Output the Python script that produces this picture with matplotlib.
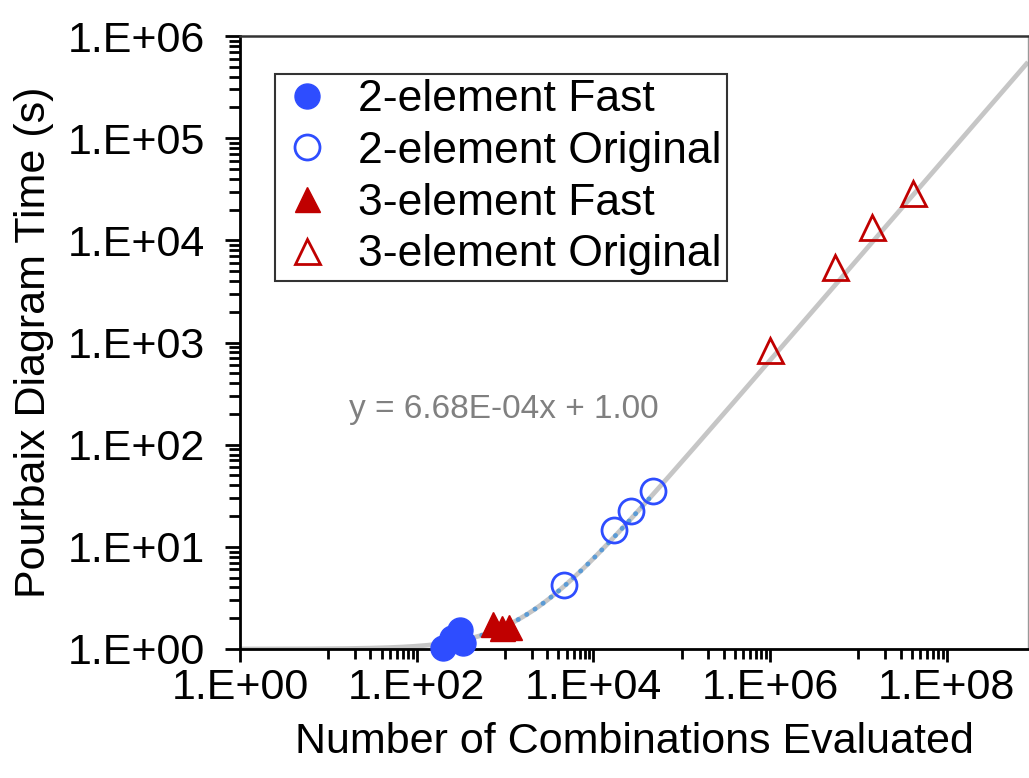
import numpy as np
import matplotlib
matplotlib.use("Agg")
import matplotlib.pyplot as plt
from matplotlib.ticker import FixedLocator, FuncFormatter, LogLocator, NullFormatter

plt.rcParams['font.family'] = ['Liberation Sans', 'DejaVu Sans']

# ---- data ----
two_fast_x = [198, 251, 309, 333]
two_fast_y = [1.02, 1.28, 1.53, 1.15]
two_orig_x = [4.6e3, 1.7e4, 2.65e4, 4.7e4]
two_orig_y = [4.23, 14.6, 22.4, 35.2]
three_fast_x = [728, 917, 1100]
three_fast_y = [1.76, 1.60, 1.64]
three_orig_x = [1.0e6, 5.5e6, 1.41e7, 4.2e7]
three_orig_y = [845, 5470, 13500, 29000]
fit_slope = 6.68e-4
fit_intercept = 1.00
fit_label = "y = 6.68E-04x + 1.00"
x_major = [1e0, 1e2, 1e4, 1e6, 1e8]
xlabel = "Number of Combinations Evaluated"
ylabel = "Pourbaix Diagram Time (s)"

W, H = 1029, 778
fig = plt.figure(figsize=(W / 100, H / 100), dpi=100)
ax = fig.add_axes([240 / W, 1 - 649 / H, 788 / W, 613 / H])

xmax = 10 ** 8.92
ax.set_xscale('log')
ax.set_yscale('log')
ax.set_xlim(1, xmax)
ax.set_ylim(1, 1e6)

# gray trendline over the whole axis
xs = np.logspace(0, np.log10(xmax), 400)
ax.plot(xs, fit_slope * xs + fit_intercept, color='#c6c6c6', lw=3.4, zorder=1,
        solid_capstyle='butt')
# dotted blue trendline over 2-element range
xd = np.logspace(np.log10(min(two_fast_x)), np.log10(max(two_orig_x)), 200)
ax.plot(xd, fit_slope * xd + fit_intercept, color='#5b9bd5', lw=3.4, ls=(0, (0.1, 2.0)),
        zorder=2, dash_capstyle='round')

blue = '#2e4dff'
red = '#c00000'
ax.plot(two_fast_x, two_fast_y, 'o', ms=18, color=blue, mec=blue, ls='none',
        label='2-element Fast', zorder=3, clip_on=False)
ax.plot(two_orig_x, two_orig_y, 'o', ms=18, mfc='none', mec=blue, mew=2, ls='none',
        label='2-element Original', zorder=3)
ax.plot(three_fast_x, three_fast_y, '^', ms=18, color=red, mec=red, ls='none',
        label='3-element Fast', zorder=3)
ax.plot(three_orig_x, three_orig_y, '^', ms=18, mfc='none', mec=red, mew=2, ls='none',
        label='3-element Original', zorder=3)

# ticks
def sci(v, pos=None):
    e = int(round(np.log10(v)))
    return f"1.E{'+' if e >= 0 else '-'}{abs(e):02d}"

ax.xaxis.set_major_locator(FixedLocator(x_major))
xminor = []
for d in range(0, 9, 2):
    for m in range(1, 10):
        v = m * 10 ** (d + 1)
        if v <= xmax:
            xminor.append(v)
ax.xaxis.set_minor_locator(FixedLocator(xminor))
ax.xaxis.set_major_formatter(FuncFormatter(sci))
ax.xaxis.set_minor_formatter(NullFormatter())

ax.yaxis.set_major_locator(LogLocator(base=10, numticks=20))
ax.yaxis.set_minor_locator(LogLocator(base=10, subs=np.arange(2, 10), numticks=20))
ax.yaxis.set_major_formatter(FuncFormatter(sci))
ax.yaxis.set_minor_formatter(NullFormatter())

ax.tick_params(axis='x', which='major', direction='out', length=9, width=2, labelsize=31, pad=5)
ax.tick_params(axis='x', which='minor', direction='out', length=7, width=2)
ax.tick_params(axis='y', which='major', direction='out', length=11, width=2, labelsize=31, pad=14)
ax.tick_params(axis='y', which='minor', direction='out', length=8, width=2)

for s in ['left', 'bottom']:
    ax.spines[s].set_linewidth(2)
    ax.spines[s].set_color('black')
ax.spines['top'].set_linewidth(1.8)
ax.spines['top'].set_color('#333333')
ax.spines['right'].set_linewidth(1)
ax.spines['right'].set_color('#999999')

ax.set_xlabel(xlabel, fontsize=31, labelpad=10)
ax.set_ylabel(ylabel, fontsize=31, labelpad=10)

ax.text(0.335, 0.39, fit_label, transform=ax.transAxes, fontsize=24, color='#808080',
        ha='center', va='center')

leg = ax.legend(loc='upper left', bbox_to_anchor=(0.044, 0.938), borderaxespad=0,
                fontsize=32, frameon=True, fancybox=False, edgecolor='black',
                handlelength=1.2, handletextpad=0.55, labelspacing=0.24,
                borderpad=0.12, markerscale=1.0)
leg.get_frame().set_linewidth(1.5)

fig.savefig('out.png', dpi=100)
